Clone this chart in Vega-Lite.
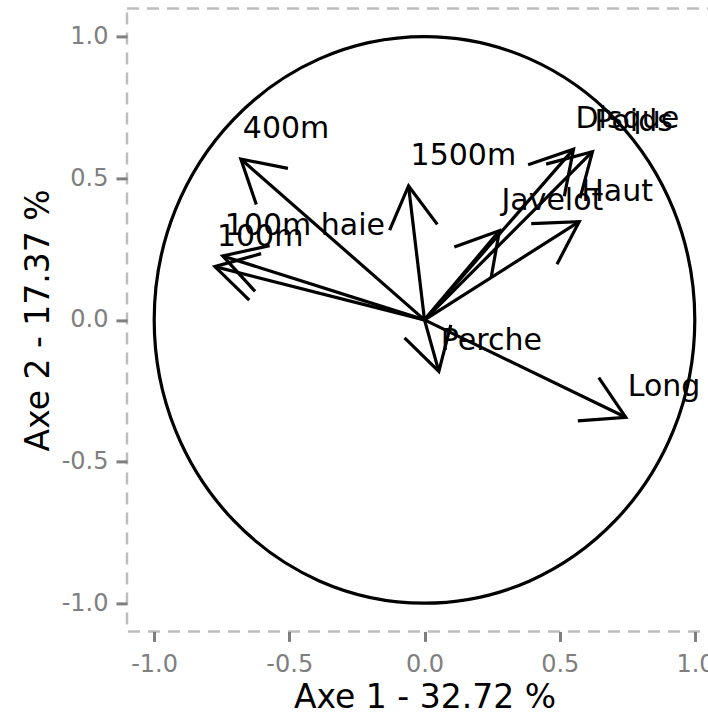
{
  "$schema": "https://vega.github.io/schema/vega-lite/v6.json",
  "width": 595,
  "height": 623,
  "autosize": {"type": "none"},
  "padding": {"left": 127, "top": 8.4, "right": -14, "bottom": 82.6},
  "config": {
    "font": "DejaVu Sans",
    "view": {"stroke": "#BEBEBE", "strokeWidth": 2.5, "strokeDash": [12, 8]},
    "axis": {
      "grid": false,
      "domain": false,
      "labelFont": "DejaVu Sans",
      "labelFontSize": 24,
      "labelColor": "#7F7F7F",
      "labelFlush": false,
      "tickColor": "#7F7F7F",
      "tickWidth": 3,
      "titleFont": "DejaVu Sans",
      "titleFontSize": 33,
      "titleFontWeight": "normal",
      "titleColor": "black"
    }
  },
  "datasets": {
    "vars": [
      {"name": "100m", "x": -0.775, "y": 0.188},
      {"name": "Long", "x": 0.744, "y": -0.344},
      {"name": "Poids", "x": 0.621, "y": 0.594},
      {"name": "Haut", "x": 0.572, "y": 0.347},
      {"name": "400m", "x": -0.679, "y": 0.568},
      {"name": "100m haie", "x": -0.746, "y": 0.226},
      {"name": "Disque", "x": 0.551, "y": 0.603},
      {"name": "Perche", "x": 0.053, "y": -0.182},
      {"name": "Javelot", "x": 0.277, "y": 0.315},
      {"name": "1500m", "x": -0.059, "y": 0.473}
    ],
    "center": [{"x": 0, "y": 0}]
  },
  "layer": [
    {
      "data": {"name": "center"},
      "mark": {
        "type": "point",
        "shape": "M -1 0 C -1 -0.5788 -0.5523 -1.048 0 -1.048 C 0.5523 -1.048 1 -0.5788 1 0 C 1 0.5788 0.5523 1.048 0 1.048 C -0.5523 1.048 -1 0.5788 -1 0 Z",
        "size": 292248,
        "filled": false,
        "stroke": "black",
        "strokeWidth": 3.2,
        "opacity": 1
      },
      "encoding": {
        "x": {
          "field": "x", "type": "quantitative",
          "scale": {"domain": [-1.1, 1.1], "nice": false, "zero": false},
          "axis": {
            "title": "Axe 1 - 32.72 %",
            "values": [-1, -0.5, 0, 0.5, 1],
            "labelExpr": "datum.value < 0 ? '-' + format(-datum.value, '.1f') : format(datum.value, '.1f')",
            "tickSize": 10,
            "labelPadding": 11,
            "titlePadding": 5
          }
        },
        "y": {
          "field": "y", "type": "quantitative",
          "scale": {"domain": [-1.1, 1.1], "nice": false, "zero": false},
          "axis": {
            "title": "Axe 2 - 17.37 %",
            "values": [-1, -0.5, 0, 0.5, 1],
            "labelExpr": "datum.value < 0 ? '-' + format(-datum.value, '.1f') : format(datum.value, '.1f')",
            "tickSize": 11,
            "labelPadding": 8,
            "titlePadding": 6
          }
        }
      }
    },
    {
      "mark": {"type": "rule", "color": "black", "strokeWidth": 3.2},
      "encoding": {"x": {"datum": 0}}
    },
    {
      "mark": {"type": "rule", "color": "black", "strokeWidth": 3.2},
      "encoding": {"y": {"datum": 0}}
    },
    {
      "data": {"name": "vars"},
      "mark": {"type": "rule", "color": "black", "strokeWidth": 3.2},
      "encoding": {
        "x": {"field": "x", "type": "quantitative"},
        "y": {"field": "y", "type": "quantitative"},
        "x2": {"datum": 0},
        "y2": {"datum": 0}
      }
    },
    {
      "data": {"name": "vars"},
      "transform": [
        {"calculate": "atan2(-datum.y * 1.048, datum.x) * 180 / PI", "as": "ang"}
      ],
      "mark": {
        "type": "point",
        "shape": "M -0.866 -0.5 L 0 0 L -0.866 0.5",
        "size": 9216,
        "filled": false,
        "stroke": "black",
        "strokeWidth": 3.2,
        "opacity": 1
      },
      "encoding": {
        "x": {"field": "x", "type": "quantitative"},
        "y": {"field": "y", "type": "quantitative"},
        "angle": {"field": "ang", "type": "quantitative", "scale": null}
      }
    },
    {
      "data": {"name": "vars"},
      "mark": {
        "type": "text",
        "align": "left",
        "baseline": "alphabetic",
        "dx": 2,
        "dy": -21,
        "fontSize": 30,
        "font": "DejaVu Sans",
        "color": "black"
      },
      "encoding": {
        "x": {"field": "x", "type": "quantitative"},
        "y": {"field": "y", "type": "quantitative"},
        "text": {"field": "name"}
      }
    }
  ]
}
